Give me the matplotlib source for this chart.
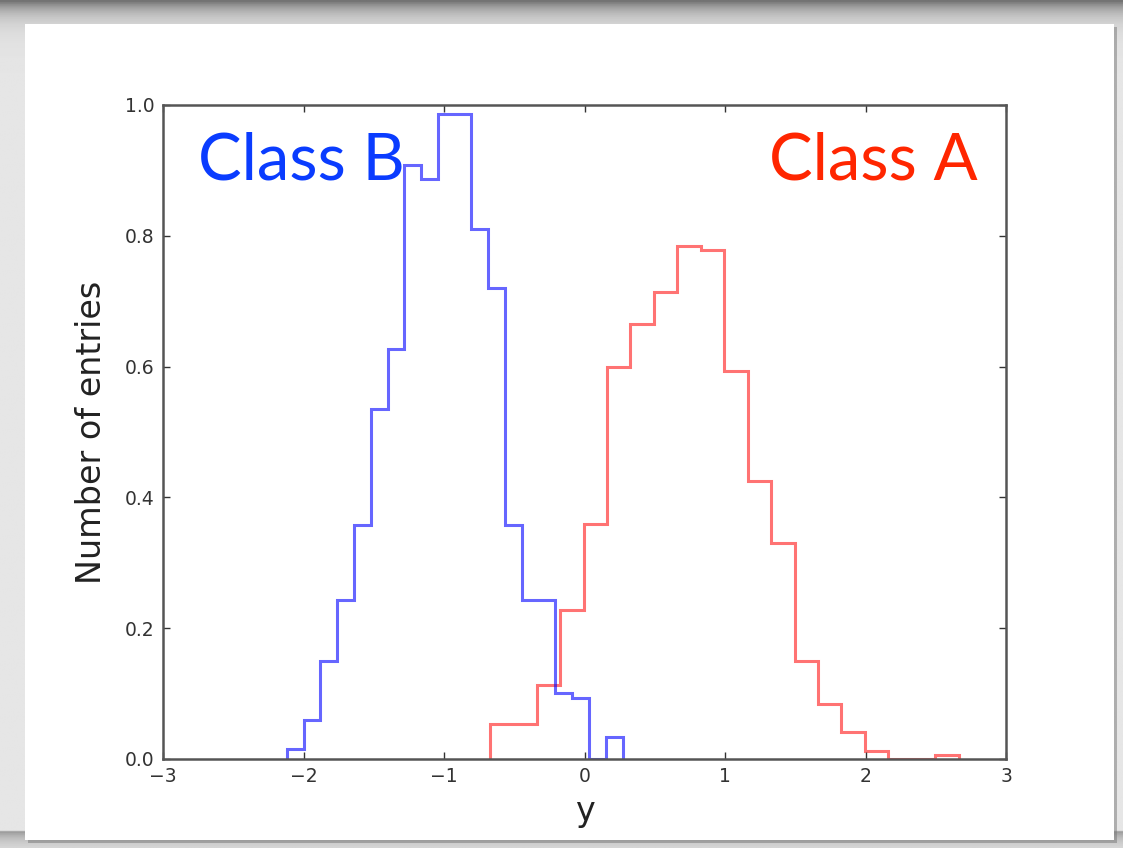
import numpy as np
import matplotlib
matplotlib.use('Agg')
import matplotlib.pyplot as plt
from matplotlib.patches import Rectangle

# histogram contents (20 bins each)
blue_range = (-2.119, 0.271)
blue_vals = [0.016, 0.059, 0.150, 0.243, 0.358, 0.535, 0.627, 0.909, 0.887, 0.987,
             0.987, 0.811, 0.720, 0.358, 0.243, 0.243, 0.101, 0.093, 0.0, 0.034]
red_range = (-0.674, 2.663)
red_vals = [0.054, 0.054, 0.113, 0.228, 0.359, 0.599, 0.665, 0.714, 0.785, 0.779,
            0.594, 0.425, 0.330, 0.150, 0.084, 0.041, 0.012, 0.0, 0.0, 0.006]
xticks = [-3, -2, -1, 0, 1, 2, 3]
yticks = [0.0, 0.2, 0.4, 0.6, 0.8, 1.0]

blue_edges = np.linspace(blue_range[0], blue_range[1], len(blue_vals) + 1)
red_edges = np.linspace(red_range[0], red_range[1], len(red_vals) + 1)

fig = plt.figure(figsize=(11.23, 8.48), dpi=100)
fig.patch.set_facecolor('#e4e2df')

# slide background: grey with dark shadow at top and bottom
bg = fig.add_axes([0, 0, 1, 1], zorder=-10)
yy = np.linspace(0, 1, 400)[:, None]
shade = 0.90 - 0.45 * np.exp(-((1 - yy) / 0.015)) - 0.35 * np.exp(-(np.clip(0.02 - yy, 0, None) / 0.012)) * (yy < 0.02)
bg.imshow(np.repeat(shade, 10, axis=1), cmap='gray', vmin=0, vmax=1, aspect='auto',
          extent=[0, 1, 0, 1], origin='lower')
bg.add_patch(Rectangle((25 / 1123 + 0.003, 8 / 848 - 0.004), 1089 / 1123, 816 / 848,
                       facecolor='#777777', alpha=0.5, edgecolor='none'))
bg.add_patch(Rectangle((25 / 1123, 8 / 848), 1089 / 1123, 816 / 848,
                       facecolor='white', edgecolor='none'))
bg.set_xlim(0, 1)
bg.set_ylim(0, 1)
bg.axis('off')

ax = fig.add_axes([163 / 1123, 1 - 759 / 848, 843 / 1123, 654 / 848])
ax.stairs(red_vals, red_edges, baseline=0, color='red', alpha=0.55, linewidth=2.2)
ax.stairs(blue_vals, blue_edges, baseline=0, color='blue', alpha=0.6, linewidth=2.2)

ax.set_xlim(-3, 3)
ax.set_ylim(0, 1.0)
ax.set_xticks(xticks)
ax.set_yticks(yticks)
ax.set_yticklabels([f'{v:.1f}' for v in yticks])
ax.tick_params(direction='in', length=5, width=1, top=True, right=True,
               labelsize=13.5, colors='#333333', pad=6)
for s in ax.spines.values():
    s.set_linewidth(1.8)
    s.set_color('#555555')
ax.set_xlabel('y', fontsize=24, color='#222222', labelpad=6)
ax.set_ylabel('Number of entries', fontsize=24, color='#222222', labelpad=12)

fig.text(198 / 1123, 1 - 180 / 848, 'Class B', color='#0a3cff', fontsize=47,
         family='Lato', va='baseline', ha='left')
fig.text(978 / 1123, 1 - 180 / 848, 'Class A', color='#ff2600', fontsize=47,
         family='Lato', va='baseline', ha='right')

fig.savefig('out.png', dpi=100, facecolor=fig.get_facecolor())
